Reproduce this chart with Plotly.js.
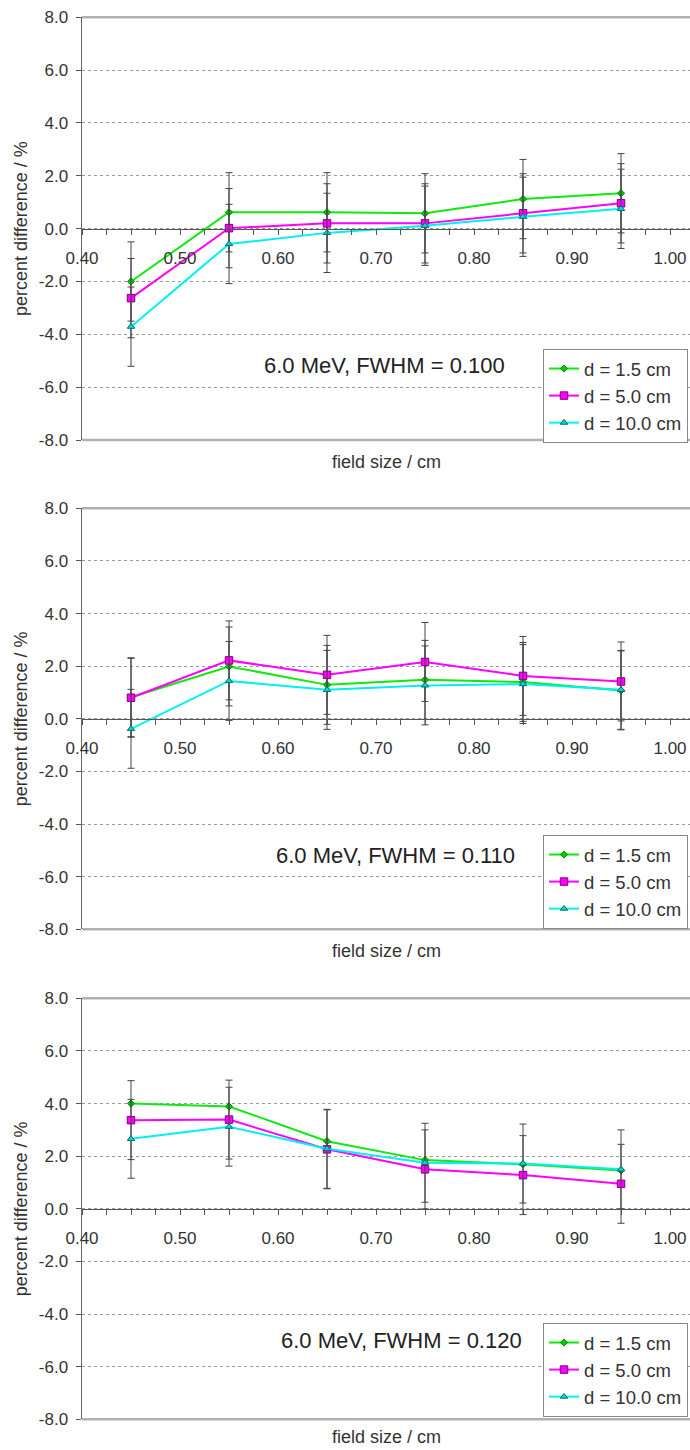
<!DOCTYPE html>
<html>
<head>
<meta charset="utf-8">
<script src="https://cdn.plot.ly/plotly-3.0.1.min.js"></script>
<style>html,body{margin:0;padding:0;background:#fff;}#chart{width:690px;height:1450px;}</style>
</head>
<body>
<div id="chart"></div>
<script>
// ---- data ----
const fieldSize = [0.45, 0.55, 0.65, 0.75, 0.85, 0.95];
const seriesNames = ['d = 1.5 cm', 'd = 5.0 cm', 'd = 10.0 cm'];
const panelTitles = ['6.0 MeV, FWHM = 0.100', '6.0 MeV, FWHM = 0.110', '6.0 MeV, FWHM = 0.120'];

const p1_d15  = [-2.00, 0.62, 0.62, 0.58, 1.12, 1.34];
const p1_d50  = [-2.63, 0.02, 0.20, 0.20, 0.58, 0.96];
const p1_d100 = [-3.71, -0.58, -0.16, 0.11, 0.45, 0.75];
const p1_e15  = [1.5, 1.5, 1.5, 1.5, 1.5, 1.5];
const p1_e50  = [1.5, 1.5, 1.5, 1.5, 1.5, 1.5];
const p1_e100 = [1.5, 1.5, 1.5, 1.5, 1.5, 1.5];

const p2_d15  = [0.82, 1.99, 1.29, 1.48, 1.40, 1.08];
const p2_d50  = [0.80, 2.22, 1.67, 2.16, 1.63, 1.42];
const p2_d100 = [-0.38, 1.44, 1.10, 1.27, 1.32, 1.10];
const p2_e15  = [1.5, 1.5, 1.5, 1.5, 1.5, 1.5];
const p2_e50  = [1.5, 1.5, 1.5, 1.5, 1.5, 1.5];
const p2_e100 = [1.5, 1.5, 1.5, 1.5, 1.5, 1.5];

const p3_d15  = [4.00, 3.89, 2.57, 1.85, 1.69, 1.46];
const p3_d50  = [3.37, 3.39, 2.26, 1.50, 1.28, 0.95];
const p3_d100 = [2.66, 3.12, 2.28, 1.75, 1.72, 1.50];
const p3_e15  = null;
const p3_e50  = [1.5, 1.5, 1.5, 1.5, 1.5, 1.5];
const p3_e100 = [1.5, 1.5, 1.5, 1.5, 1.5, 1.5];

const yTickVals = [-8, -6, -4, -2, 0, 2, 4, 6, 8];
const yTickText = ['-8.0', '-6.0', '-4.0', '-2.0', '0.0', '2.0', '4.0', '6.0', '8.0'];
const xTickVals = [0.40, 0.50, 0.60, 0.70, 0.80, 0.90, 1.00];
const xTickText = ['0.40', '0.50', '0.60', '0.70', '0.80', '0.90', '1.00'];

// ---- styling ----
const FONT = 'Liberation Sans, Arial, sans-serif';
const lineColors = ['#10e810', '#ff00ff', '#00f0f0'];
const markerFill = ['#00cc00', '#ff00ff', '#00d8d8'];
const markerLine = ['#008800', '#800080', '#007070'];
const symbols = ['diamond', 'square', 'triangle-up'];
const msize = [5.5, 7.5, 6.5];

const panels = [
  {vals: [p1_d15, p1_d50, p1_d100], errs: [p1_e15, p1_e50, p1_e100]},
  {vals: [p2_d15, p2_d50, p2_d100], errs: [p2_e15, p2_e50, p2_e100]},
  {vals: [p3_d15, p3_d50, p3_d100], errs: [p3_e15, p3_e50, p3_e100]}
];

// pixel layout of each plot area (top, bottom)
const H = 1450, W = 690;
const plotPix = [[17.3, 440], [508.3, 929.3], [998.3, 1419.3]];
const xLeftPix = 82;
const xTitlePix = [462, 951, 1437];
const legendTopPix = [349, 835, 1323];
const annPos = [[0.498, 0.177], [0.515, 0.176], [0.526, 0.188]];

const traces = [];
const layout = {
  width: W, height: H,
  margin: {l: 0, r: 0, t: 0, b: 0},
  paper_bgcolor: '#fff', plot_bgcolor: '#fff',
  font: {family: FONT, color: '#333'},
  shapes: [], annotations: []
};

panels.forEach((p, i) => {
  const n = i === 0 ? '' : String(i + 1);
  const xa = 'x' + n, ya = 'y' + n;
  const legendId = 'legend' + n;
  const dom = [1 - plotPix[i][1] / H, 1 - plotPix[i][0] / H];
  for (let s = 0; s < 3; s++) {
    const err = p.errs[s];
    traces.push({
      type: 'scatter', mode: 'lines+markers',
      x: fieldSize, y: p.vals[s], name: seriesNames[s],
      xaxis: xa, yaxis: ya, legend: legendId,
      line: {color: lineColors[s], width: 2},
      marker: {symbol: symbols[s], size: msize[s], color: markerFill[s], line: {color: markerLine[s], width: 1}},
      error_y: err ? {type: 'data', array: err, visible: true, color: '#444', thickness: 1, width: 3.5} : {visible: false},
      cliponaxis: false
    });
  }
  layout['xaxis' + n] = {
    domain: [xLeftPix / W, 1],
    range: [0.40, 0.40 + (W - xLeftPix) / 980],
    anchor: 'free', position: (dom[0] + dom[1]) / 2,
    tickmode: 'array', tickvals: xTickVals, ticktext: xTickText,
    ticks: 'outside', ticklen: 5, tickcolor: '#555', tickwidth: 1,
    minor: {tickmode: 'linear', tick0: 0.4, dtick: 0.025, ticks: 'outside', ticklen: 5, tickcolor: '#555', tickwidth: 1, showgrid: false},
    ticklabelstandoff: 9,
    showline: true, linecolor: '#555', linewidth: 1,
    showgrid: false, zeroline: false,
    tickfont: {family: FONT, size: 17, color: '#333'},
    automargin: false, fixedrange: true
  };
  layout['yaxis' + n] = {
    domain: dom, anchor: xa,
    range: [-8, 8],
    tickmode: 'array', tickvals: yTickVals, ticktext: yTickText,
    ticks: 'outside', ticklen: 5, tickcolor: '#555', tickwidth: 1,
    ticklabelstandoff: 4,
    showline: true, linecolor: '#666', linewidth: 1.5,
    showgrid: true, gridcolor: '#999', gridwidth: 1, griddash: 'dot',
    zeroline: false,
    tickfont: {family: FONT, size: 17, color: '#333'},
    title: {text: 'percent difference / %', font: {family: FONT, size: 18, color: '#333'}, standoff: 6},
    automargin: false, fixedrange: true
  };
  // plot-area top and bottom borders
  [0, 1].forEach(yy => layout.shapes.push({
    type: 'line', xref: xa + ' domain', yref: ya + ' domain',
    x0: 0, x1: 1, y0: yy, y1: yy,
    line: {color: '#b0b0b0', width: 2.5}
  }));
  layout.annotations.push({
    text: panelTitles[i], xref: xa + ' domain', yref: ya + ' domain',
    x: annPos[i][0], y: annPos[i][1], xanchor: 'center', yanchor: 'middle',
    showarrow: false, font: {family: FONT, size: 22, color: '#222'}
  });
  layout.annotations.push({
    text: 'field size / cm', xref: xa + ' domain', yref: 'paper',
    x: 0.5, y: 1 - xTitlePix[i] / H, xanchor: 'center', yanchor: 'middle',
    showarrow: false, font: {family: FONT, size: 18, color: '#333'}
  });
  layout[legendId] = {
    x: 688 / W, y: 1 - legendTopPix[i] / H, xanchor: 'right', yanchor: 'top',
    xref: 'paper', yref: 'paper',
    bgcolor: '#fff', bordercolor: '#888', borderwidth: 1,
    font: {family: FONT, size: 18.5, color: '#333'},
    itemwidth: 30, tracegroupgap: 0
  };
});
layout.showlegend = true;

Plotly.newPlot('chart', traces, layout, {displayModeBar: false, staticPlot: true});
</script>
</body>
</html>
